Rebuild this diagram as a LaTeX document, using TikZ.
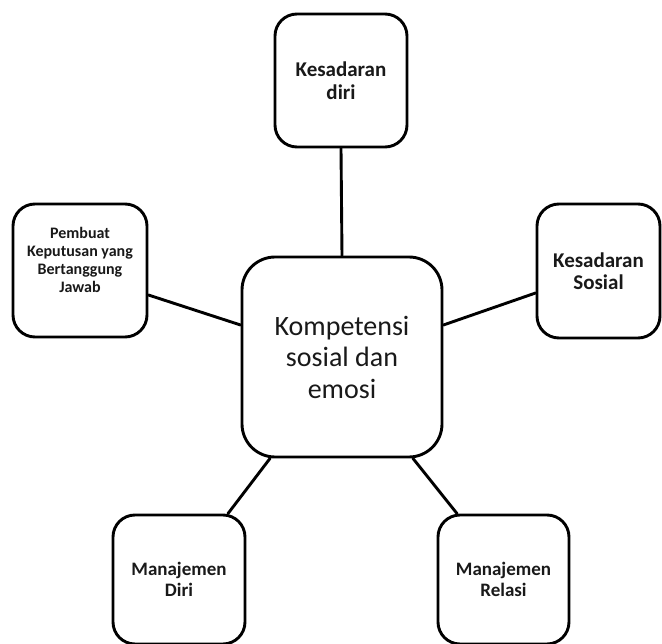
\documentclass[tikz,border=0pt]{standalone}
\usepackage{fontspec}
\setmainfont{Carlito}
\usetikzlibrary{calc}
\begin{document}
\begin{tikzpicture}[x=1pt,y=-1pt,
  box/.style={draw=black, line width=2.9pt, rounded corners=22pt, fill=white,
    inner sep=0pt, text=black!90, align=center},
  link/.style={line width=2.9pt, line cap=round}]
\useasboundingbox (0,0) rectangle (662,644);
% boxes
\node[box, minimum width=200pt, minimum height=200pt, rounded corners=33pt,
  font=\fontsize{28}{31.5}\selectfont] (c) at (342,357) {Kompetensi\\sosial dan\\emosi};
\node[box, minimum width=132pt, minimum height=133pt,
  font=\fontsize{21}{22.5}\selectfont\bfseries] (t) at (341,80.5) {Kesadaran\\diri};
\node[box, minimum width=134pt, minimum height=133pt] (l) at (80,270.5) {};
\node[text=black!90, align=center, inner sep=0pt,
  font=\fontsize{16}{18}\selectfont\bfseries] (ltext) at (80,260) {Pembuat\\Keputusan yang\\Bertanggung\\Jawab};
\node[box, minimum width=123pt, minimum height=134pt,
  font=\fontsize{21}{21.5}\selectfont\bfseries] (r) at (598.5,271) {Kesadaran\\Sosial};
\node[box, minimum width=132pt, minimum height=129pt,
  font=\fontsize{19}{20.5}\selectfont\bfseries] (bl) at (179,579.5) {Manajemen\\Diri};
\node[box, minimum width=131pt, minimum height=129pt,
  font=\fontsize{19}{20.5}\selectfont\bfseries] (br) at (503.5,579.5) {Manajemen\\Relasi};
% connectors
\draw[link] (t.south) -- (c.north);
\draw[link] ([yshift=-24.5pt]l.east) -- ([yshift=32pt]c.west);
\draw[link] ([yshift=32pt]c.east) -- ([yshift=-22pt]r.west);
\draw[link] ([xshift=-72pt]c.south) -- ([xshift=49pt]bl.north);
\draw[link] ([xshift=71pt]c.south) -- ([xshift=-46.5pt]br.north);
\end{tikzpicture}
\end{document}
